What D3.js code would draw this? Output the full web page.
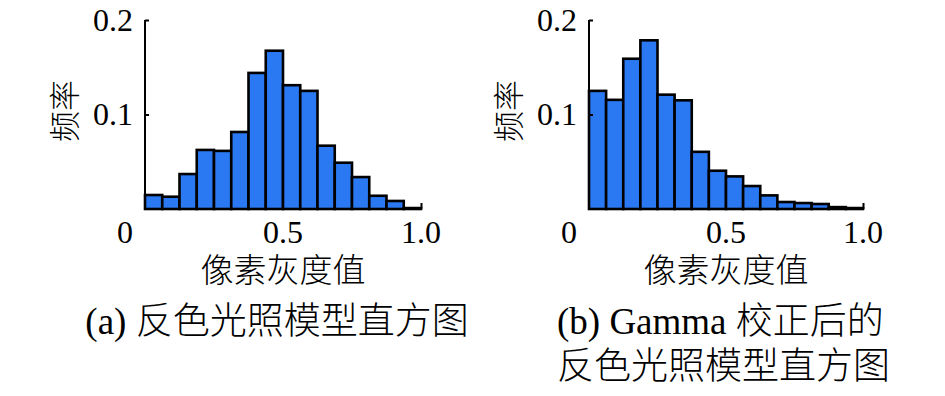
<!DOCTYPE html>
<html>
<head>
<meta charset="utf-8">
<script src="https://cdn.jsdelivr.net/npm/d3@7"></script>
<style>
  body { margin: 0; background: #fff; }
  svg { display: block; }
</style>
</head>
<body>
<script>
// 16 bins of width 1/16 over [0, 1]
const binCount = 16;
const freqInverted = [0.0148, 0.013, 0.037, 0.0625, 0.0615, 0.0815, 0.144, 0.1675,
  0.131, 0.125, 0.067, 0.049, 0.0338, 0.014, 0.0085, 0.001];
const freqGamma = [0.125, 0.1155, 0.159, 0.1785, 0.121, 0.115, 0.0605, 0.0405,
  0.0345, 0.0243, 0.0144, 0.0074, 0.0063, 0.0053, 0.002, 0.001];
const xTicks = [0, 0.5, 1.0];
const xTickLabels = ['0', '0.5', '1.0'];
const yTicks = [0.1, 0.2];
const yTickLabels = ['0.1', '0.2'];
const yTitle = '频率';
const xTitle = '像素灰度值';
const captionA = ['(a) 反色光照模型直方图'];
const captionB = ['(b) Gamma 校正后的', '反色光照模型直方图'];

const width = 945;
const height = 396;
const fontFamily = '"Liberation Serif", "Times New Roman", "Noto Sans CJK SC", serif';

const svg = d3.select('body')
  .append('svg')
  .attr('width', width)
  .attr('height', height)
  .style('font-family', fontFamily);

function drawPanel(opts) {
  const g = svg.append('g');
  const x = d3.scaleLinear().domain([0, 1]).range([opts.left, opts.right]);
  const y = d3.scaleLinear().domain([0, 0.2]).range([209, 20]);

  const bins = opts.values.map((v, i) => ({ x0: i / binCount, x1: (i + 1) / binCount, v }));

  g.append('g')
    .selectAll('rect')
    .data(bins)
    .join('rect')
    .attr('x', (d) => x(d.x0))
    .attr('y', (d) => y(d.v))
    .attr('width', (d) => x(d.x1) - x(d.x0))
    .attr('height', (d) => y(0) - y(d.v))
    .attr('fill', '#2a79f3')
    .attr('stroke', '#000')
    .attr('stroke-width', 2.6);

  // y axis: ticks point inward
  const yAxis = g.append('g')
    .attr('transform', `translate(${x(0)},0)`)
    .call(d3.axisRight(y).tickValues(yTicks).tickSize(4).tickSizeOuter(0).tickFormat(''));
  yAxis.select('.domain').attr('stroke-width', 2).attr('d', `M0,${y(0)}V${y(0.2)}`);
  yAxis.selectAll('.tick line').attr('stroke-width', 2);

  // x axis: only the baseline and a tick at the far end
  const xAxis = g.append('g')
    .attr('transform', `translate(0,${y(0)})`)
    .call(d3.axisTop(x).tickValues([1]).tickSize(6).tickSizeOuter(0).tickFormat(''));
  xAxis.select('.domain').attr('stroke-width', 2.2).attr('d', `M${x(0)},0H${x(1)}`);
  xAxis.selectAll('.tick line').attr('stroke-width', 2);

  g.selectAll('.ylab')
    .data(yTicks)
    .join('text')
    .attr('x', x(0) - 12)
    .attr('y', (d) => y(d))
    .attr('dy', '0.34em')
    .attr('text-anchor', 'end')
    .attr('font-size', 32)
    .text((d, i) => yTickLabels[i]);

  g.selectAll('.xlab')
    .data(xTicks)
    .join('text')
    .attr('x', (d) => x(d) - (d === 0 ? 20 : 0))
    .attr('y', 243)
    .attr('text-anchor', 'middle')
    .attr('font-size', 32)
    .text((d, i) => xTickLabels[i]);

  g.append('text')
    .attr('transform', `translate(${x(0) - 80},${111}) rotate(-90)`)
    .attr('dy', '0.35em')
    .attr('text-anchor', 'middle')
    .attr('font-size', 31)
    .attr('font-weight', 300)
    .text(yTitle);

  g.append('text')
    .attr('x', (x(0) + x(1)) / 2)
    .attr('y', 282)
    .attr('text-anchor', 'middle')
    .attr('font-size', 33)
    .attr('font-weight', 300)
    .text(xTitle);

  g.selectAll('.cap')
    .data(opts.caption)
    .join('text')
    .attr('x', opts.capX)
    .attr('y', (d, i) => 334 + i * 45)
    .attr('text-anchor', opts.capAnchor)
    .attr('font-size', 37)
    .attr('font-weight', 300)
    .text((d) => d);
}

drawPanel({ values: freqInverted, left: 145, right: 421, caption: captionA, capX: 277, capAnchor: 'middle' });
drawPanel({ values: freqGamma, left: 589, right: 863, caption: captionB, capX: 557, capAnchor: 'start' });
</script>
</body>
</html>
